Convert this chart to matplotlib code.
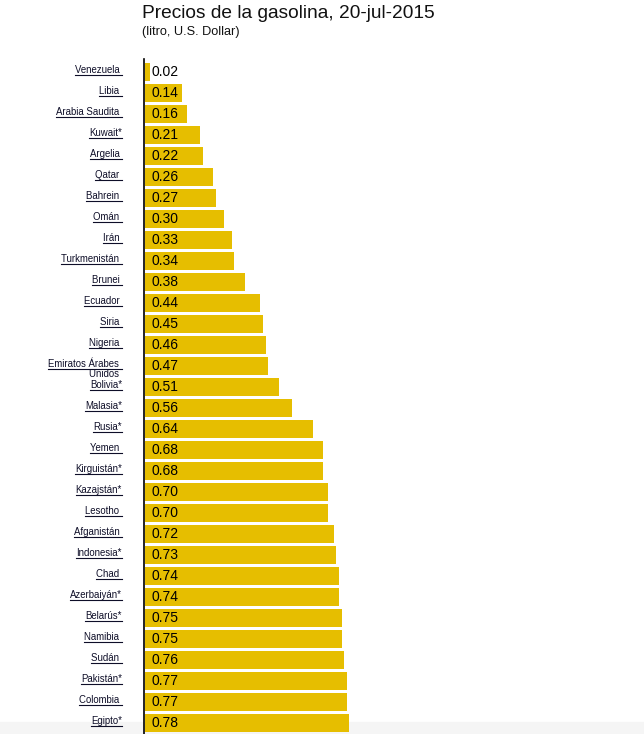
import matplotlib
matplotlib.use("Agg")
import matplotlib.pyplot as plt
import matplotlib.transforms as mtransforms
from matplotlib.lines import Line2D
from matplotlib.patches import Rectangle

plt.rcParams['font.family'] = ['Liberation Sans', 'DejaVu Sans']

countries = ["Venezuela", "Libia", "Arabia Saudita", "Kuwait", "Argelia", "Qatar",
             "Bahrein", "Omán", "Irán", "Turkmenistán", "Brunei", "Ecuador", "Siria",
             "Nigeria", "Emiratos Árabes\nUnidos", "Bolivia", "Malasia", "Rusia", "Yemen",
             "Kirguistán", "Kazajstán", "Lesotho", "Afganistán", "Indonesia", "Chad",
             "Azerbaiyán", "Belarús", "Namibia", "Sudán", "Pakistán", "Colombia", "Egipto"]
prices = [0.02, 0.14, 0.16, 0.21, 0.22, 0.26, 0.27, 0.30, 0.33, 0.34, 0.38, 0.44,
          0.45, 0.46, 0.47, 0.51, 0.56, 0.64, 0.68, 0.68, 0.70, 0.70, 0.72, 0.73,
          0.74, 0.74, 0.75, 0.75, 0.76, 0.77, 0.77, 0.78]
starred = [False, False, False, True, False, False, False, False, False, False, False,
           False, False, False, False, True, True, True, False, True, True, False,
           False, True, False, True, True, False, False, True, False, True]

bar_color = '#E6BE00'
label_color = '#0e0e28'

fig = plt.figure(figsize=(6.44, 7.34), dpi=100)
# axes: left edge at x=144px, top at y=59px, down to the bottom of the image
ax = fig.add_axes([144 / 644, 0, 500 / 644, 1 - 59 / 734])

# faint grey band at the bottom of the page
fig.patches.append(Rectangle((0, 0), 1, 12 / 734, transform=fig.transFigure,
                             color='#f5f5f5', zorder=-10))

n = len(countries)
ypos = list(range(n))
ax.barh(ypos, prices, height=0.87, color=bar_color, left=0.004)

ax.set_xlim(0, 500 / 262)
ax.set_ylim(31 + (734 - 723) / 21, -(72 - 59) / 21)

for s in ['top', 'right', 'bottom']:
    ax.spines[s].set_visible(False)
ax.spines['left'].set_linewidth(1.2)
ax.spines['left'].set_color('black')
ax.set_xticks([])
ax.set_yticks([])
ax.patch.set_alpha(0)

blend = mtransforms.blended_transform_factory(ax.transAxes, ax.transData)

# value labels inside the bars
for i, v in enumerate(prices):
    tr = mtransforms.offset_copy(blend, fig=fig, x=8, y=0, units='dots')
    ax.text(0, i, f"{v:.2f}", transform=tr, ha='left', va='center',
            fontsize=10, color='#000000')

# country labels (underlined like links)
labels = []
for i, (c, st) in enumerate(zip(countries, starred)):
    lines = c.split("\n")
    first = lines[0] + ("*" if st and len(lines) == 1 else " ")
    tr = mtransforms.offset_copy(blend, fig=fig, x=-22, y=-1, units='dots')
    t = ax.text(0, i, first, transform=tr, ha='right', va='baseline',
                fontsize=6.9, color=label_color)
    labels.append(t)
    if len(lines) > 1:
        tr2 = mtransforms.offset_copy(blend, fig=fig, x=-22, y=-11, units='dots')
        ax.text(0, i, lines[1] + " ", transform=tr2, ha='right', va='baseline',
                fontsize=6.9, color=label_color)

fig.text(142 / 644, 1 - 18.5 / 734, "Precios de la gasolina, 20-jul-2015",
         fontsize=13.8, ha='left', va='baseline', color='#111111')
fig.text(142 / 644, 1 - 35.5 / 734, "(litro, U.S. Dollar)",
         fontsize=9.2, ha='left', va='baseline', color='#111111')

fig.canvas.draw()
renderer = fig.canvas.get_renderer()
inv = fig.transFigure.inverted()
for i, t in enumerate(labels):
    bb = t.get_window_extent(renderer)
    base = blend.transform((0, i))[1] - 1
    y = base - 2
    (x0, y0), (x1, y1) = inv.transform([(bb.x0, y), (bb.x1, y)])
    fig.lines.append(Line2D([x0, x1], [y0, y1], transform=fig.transFigure,
                            color=label_color, linewidth=0.8))

fig.savefig("out.png", dpi=100)
